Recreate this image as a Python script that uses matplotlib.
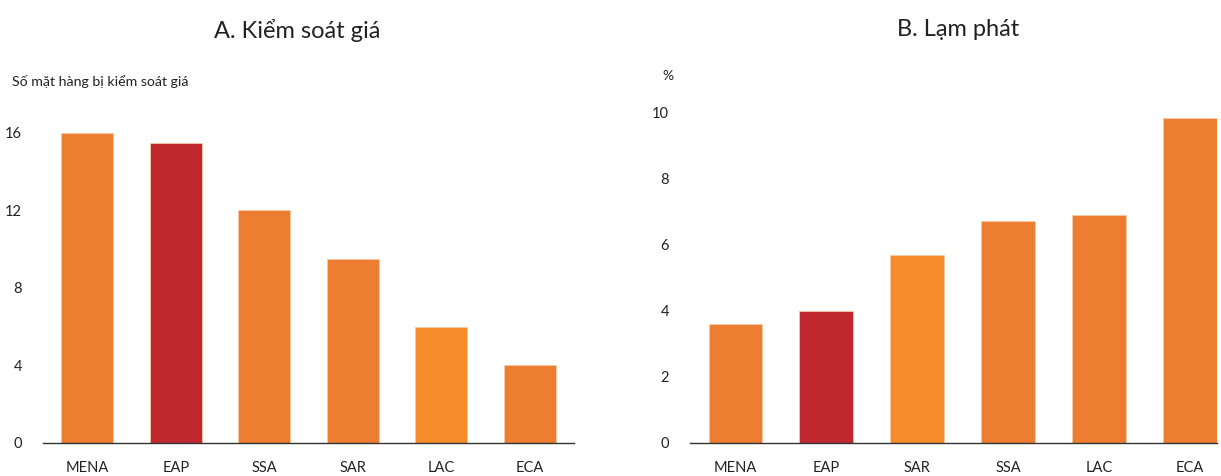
import matplotlib

matplotlib.use("Agg")

import matplotlib.pyplot as plt

plt.rcParams["font.family"] = ["Lato", "DejaVu Sans"]

# Panel A: price controls
a_regions = ["MENA", "EAP", "SSA", "SAR", "LAC", "ECA"]
a_values = [16.0, 15.5, 12.0, 9.5, 6.0, 4.0]
a_colors = ["#ED7D31", "#C1272F", "#ED7D31", "#ED7D31", "#F68B2A", "#ED7D31"]
a_ticks = [0, 4, 8, 12, 16]

# Panel B: inflation
b_regions = ["MENA", "EAP", "SAR", "SSA", "LAC", "ECA"]
b_values = [3.6, 4.0, 5.68, 6.7, 6.88, 9.82]
b_colors = ["#ED7D31", "#C1272F", "#F68B2A", "#ED7D31", "#ED7D31", "#ED7D31"]
b_ticks = [0, 2, 4, 6, 8, 10]

W, H = 1221, 476
fig = plt.figure(figsize=(W / 100, H / 100), dpi=100)

ax_a = fig.add_axes([43 / W, 1 - 443 / H, 531 / W, 319.7 / H])
ax_b = fig.add_axes([690 / W, 1 - 443 / H, 527 / W, 337.6 / H])


def style(ax, regions, values, colors, ticks, ylim, xlim):
    x = range(len(regions))
    ax.bar(x, values, width=0.59, color=colors, edgecolor="#F7C9A8", linewidth=0.6, zorder=2)
    ax.set_xlim(*xlim)
    ax.set_ylim(*ylim)
    ax.set_xticks(list(x))
    ax.set_xticklabels(regions, fontsize=10.5, color="#222222")
    ax.set_yticks(ticks)
    ax.set_yticklabels([str(t) for t in ticks], fontsize=10.5, color="#222222")
    for side in ["top", "right", "left"]:
        ax.spines[side].set_visible(False)
    ax.spines["bottom"].set_color("#333333")
    ax.spines["bottom"].set_linewidth(1.0)
    ax.tick_params(axis="both", length=0)
    ax.tick_params(axis="x", pad=13)
    ax.tick_params(axis="y", pad=15)


style(ax_a, a_regions, a_values, a_colors, a_ticks, (0, 16.5), (-0.5, 5.5))
style(ax_b, b_regions, b_values, b_colors, b_ticks, (0, 10.2), (-0.5, 5.3))

fig.text(297 / W, 1 - 30 / H, "A. Kiểm soát giá", ha="center", va="center",
         fontsize=17, color="#222222")
fig.text(958 / W, 1 - 30 / H, "B. Lạm phát", ha="center", va="center",
         fontsize=17, color="#222222")
fig.text(12 / W, 1 - 81 / H, "Số mặt hàng bị kiểm soát giá", ha="left", va="center",
         fontsize=10.2, color="#222222")
fig.text(668 / W, 1 - 76 / H, "%", ha="center", va="center", fontsize=10, color="#222222")

fig.savefig("out.png", dpi=100)
